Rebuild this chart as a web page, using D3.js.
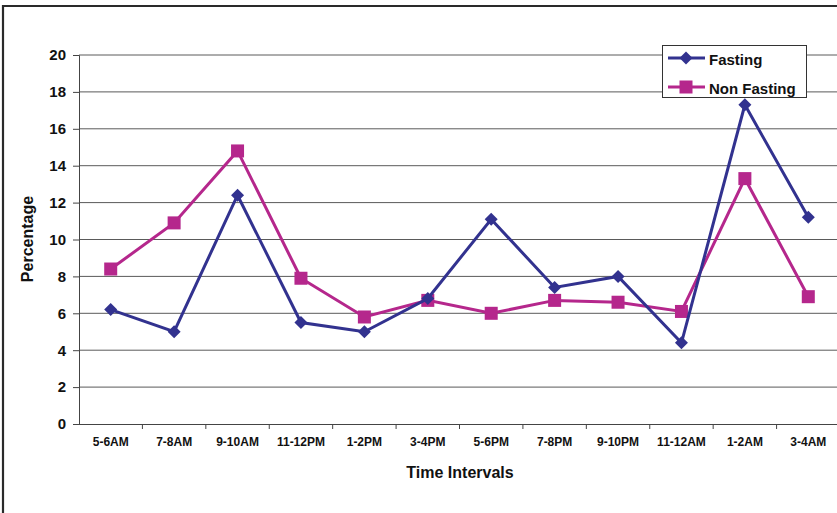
<!DOCTYPE html>
<html>
<head>
<meta charset="utf-8">
<script src="https://cdn.jsdelivr.net/npm/d3@7"></script>
<style>
  html, body { margin: 0; padding: 0; background: #fff; }
  svg { display: block; }
  text { font-family: "Liberation Sans", Arial, sans-serif; fill: #111; }
</style>
</head>
<body>
<div id="chart"></div>
<script>
// Share of events per two-hour time interval
const categories = ["5-6AM", "7-8AM", "9-10AM", "11-12PM", "1-2PM", "3-4PM",
                    "5-6PM", "7-8PM", "9-10PM", "11-12AM", "1-2AM", "3-4AM"];
const fasting    = [6.2, 5.0, 12.4, 5.5, 5.0, 6.8, 11.1, 7.4, 8.0, 4.4, 17.3, 11.2];
const nonFasting = [8.4, 10.9, 14.8, 7.9, 5.8, 6.7, 6.0, 6.7, 6.6, 6.1, 13.3, 6.9];
const yTicks     = [0, 2, 4, 6, 8, 10, 12, 14, 16, 18, 20];

const series = [
  { name: "Fasting",     values: fasting,    color: "#32328f", shape: "diamond" },
  { name: "Non Fasting", values: nonFasting, color: "#b5278c", shape: "square" }
];

const W = 837, H = 513;
const plot = { left: 79, top: 55, right: 840, bottom: 424 };

const svg = d3.select("#chart").append("svg")
  .attr("width", W).attr("height", H);

svg.append("rect").attr("width", W).attr("height", H).attr("fill", "#fff");

// outer frame (top and left edges)
svg.append("path")
  .attr("d", `M3,${H} L3,6 L${W},6`)
  .attr("fill", "none").attr("stroke", "#2a2a2a").attr("stroke-width", 2.2);

const x = d3.scaleBand().domain(categories).range([plot.left, plot.right]);
const y = d3.scaleLinear().domain([0, 20]).range([plot.bottom, plot.top]);
const cx = d => x(d) + x.bandwidth() / 2;

// horizontal gridlines
svg.append("g").selectAll("line").data(yTicks.filter(v => v > 0)).join("line")
  .attr("x1", plot.left).attr("x2", W)
  .attr("y1", d => y(d)).attr("y2", d => y(d))
  .attr("stroke", "#5a5a5a").attr("stroke-width", 1);

// y axis
const yAxis = svg.append("g")
  .attr("transform", `translate(${plot.left},0)`)
  .call(d3.axisLeft(y).tickValues(yTicks).tickSize(6).tickPadding(7));
yAxis.select(".domain").attr("stroke", "#444");
yAxis.selectAll(".tick line").attr("stroke", "#444");
yAxis.selectAll("text")
  .style("font-size", "15px").style("font-weight", "bold")
  .attr("fill", "#111").attr("font-family", "Liberation Sans, Arial, sans-serif");

// x axis with ticks between categories
const xAxis = svg.append("g")
  .attr("transform", `translate(0,${plot.bottom})`)
  .call(d3.axisBottom(x).tickSize(0).tickPadding(13));
xAxis.select(".domain").attr("d", `M${plot.left},0.5H${W}`).attr("stroke", "#444");
xAxis.selectAll("text")
  .style("font-size", "12px").style("font-weight", "bold")
  .attr("fill", "#111").attr("font-family", "Liberation Sans, Arial, sans-serif");
svg.append("g").selectAll("line").data(categories.slice(1)).join("line")
  .attr("x1", d => x(d)).attr("x2", d => x(d))
  .attr("y1", plot.bottom).attr("y2", plot.bottom + 5)
  .attr("stroke", "#444");

// axis titles
svg.append("text")
  .attr("x", 460).attr("y", 478)
  .attr("text-anchor", "middle")
  .style("font-size", "16px").style("font-weight", "bold")
  .text("Time Intervals");
svg.append("text")
  .attr("transform", "translate(33,239) rotate(-90)")
  .attr("text-anchor", "middle")
  .style("font-size", "16px").style("font-weight", "bold")
  .text("Percentage");

// marker drawing
function marker(sel, shape, color) {
  if (shape === "diamond") {
    sel.append("path").attr("d", "M0,-6.5 L6.5,0 L0,6.5 L-6.5,0 Z").attr("fill", color);
  } else {
    sel.append("rect").attr("x", -6.5).attr("y", -6.5).attr("width", 13).attr("height", 13).attr("fill", color);
  }
}

const line = d3.line().x((d, i) => cx(categories[i])).y(d => y(d));

// draw Non Fasting first so Fasting sits on top
[series[1], series[0]].forEach(s => {
  svg.append("path")
    .datum(s.values)
    .attr("d", line)
    .attr("fill", "none").attr("stroke", s.color).attr("stroke-width", 3)
    .attr("stroke-linejoin", "miter");
  svg.append("g").selectAll("g").data(s.values).join("g")
    .attr("transform", (d, i) => `translate(${cx(categories[i])},${y(d)})`)
    .each(function () { marker(d3.select(this), s.shape, s.color); });
});

// legend
const lg = svg.append("g");
lg.append("rect")
  .attr("x", 662.5).attr("y", 45.5).attr("width", 144).attr("height", 52)
  .attr("fill", "#fff").attr("stroke", "#333").attr("stroke-width", 1);
series.forEach((s, i) => {
  const yy = 58 + i * 29;
  lg.append("line").attr("x1", 668).attr("x2", 705).attr("y1", yy).attr("y2", yy)
    .attr("stroke", s.color).attr("stroke-width", 3);
  const m = lg.append("g").attr("transform", `translate(686,${yy})`);
  marker(m, s.shape, s.color);
  lg.append("text").attr("x", 709).attr("y", yy + 7)
    .style("font-size", "15px").style("font-weight", "bold")
    .text(s.name);
});
</script>
</body>
</html>
